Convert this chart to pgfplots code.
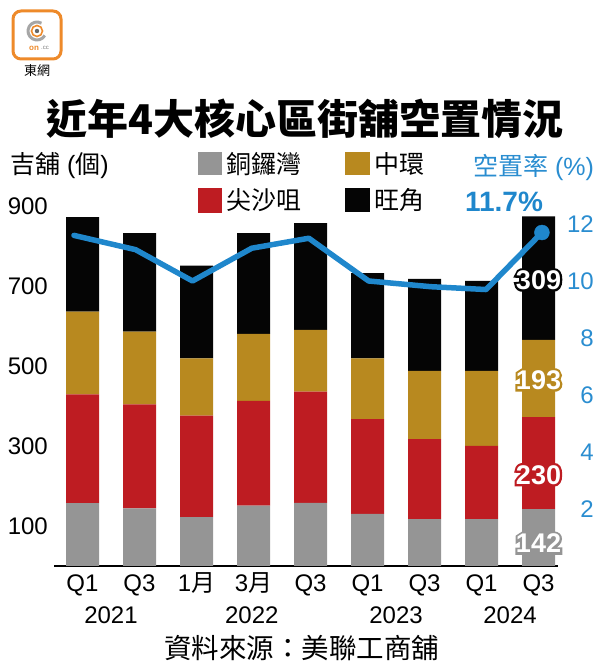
\documentclass[border=0pt]{standalone}
\usepackage{fontspec}
\setmainfont{Liberation Sans}
\newfontfamily\cjk{Noto Sans CJK TC}
\newfontface\outfont{Liberation Sans Bold}[FakeBold=17]
\usepackage{pgfplots}
\pgfplotsset{compat=1.18}
\definecolor{cgray}{HTML}{959595}
\definecolor{cred}{HTML}{BE1C22}
\definecolor{cgold}{HTML}{B8891F}
\definecolor{cblack}{HTML}{050505}
\definecolor{cblue}{HTML}{1F87CC}
\definecolor{ctblue}{HTML}{2A8DD0}
\definecolor{logoor}{HTML}{EE8A2A}
\newcommand\fs[1]{\fontsize{#1bp}{#1bp}\selectfont}
\begin{document}
\begin{tikzpicture}[x=1bp,y=1bp]
\useasboundingbox (0,0) rectangle (609,667);
% logo
\draw[draw=logoor, fill=white, line width=3bp, rounded corners=8bp] (13,608) rectangle (61,656);
\draw[gray!70, line width=3bp] (37,636) ++(60:9) arc (60:330:9);
\draw[logoor, line width=1.6bp] (37,636) circle (5.5);
\fill[gray!80!black] (37,636) circle (2.2);
\node[text=logoor, font=\bfseries\fs{8}] at (34,619) {on};
\node[text=gray, font=\fs{6}] at (45,619) {.cc};
\node[font=\cjk\fs{13}] at (37,596) {東網};
% title
\node[font=\cjk\bfseries\fs{41}] at (305,548) {近年4大核心區街舖空置情況};
% unit labels
\node[anchor=west, font=\fs{25}, inner sep=0pt] at (10,501) {{\cjk 吉舖} ({\cjk 個})};
\node[anchor=west, font=\fs{25}, inner sep=0pt, text=ctblue] at (473,499) {{\cjk 空置率} (\%)};
\node[font=\bfseries\fs{28}, text=cblue] at (504,465) {11.7\%};
% legend
\fill[cgray] (198,492) rectangle (222,515);
\node[anchor=west, font=\cjk\fs{25}, inner sep=0pt] at (226,503) {銅鑼灣};
\fill[cgold] (345,492) rectangle (370,515);
\node[anchor=west, font=\cjk\fs{25}, inner sep=0pt] at (374,503) {中環};
\fill[cred] (198,454) rectangle (222,479);
\node[anchor=west, font=\cjk\fs{25}, inner sep=0pt] at (226,467) {尖沙咀};
\fill[cblack] (345,455) rectangle (370,479);
\node[anchor=west, font=\cjk\fs{25}, inner sep=0pt] at (374,467) {旺角};
% source
\node[font=\cjk\fs{27.5}] at (301.5,19) {資料來源：美聯工商舖};

\begin{axis}[
  at={(54bp,101bp)}, anchor=south west,
  scale only axis, width=503.88bp, height=380bp,
  xmin=-0.5, xmax=8.34, ymin=0, ymax=950,
  ybar stacked, bar width=33bp,
  axis x line*=bottom, axis y line*=left,
  x axis line style={line width=2.4bp, -},
  y axis line style={draw=none},
  major tick length=0,
  xtick={0,...,8},
  xticklabels={Q1,Q3,1{\cjk 月},3{\cjk 月},Q3,Q1,Q3,Q1,Q3},
  ytick={100,300,500,700,900},
  tick label style={font=\fs{24}},
  xticklabel style={anchor=base, inner sep=0pt, yshift=-26bp},
  yticklabel style={anchor=east, inner sep=0pt, xshift=-6bp},
  /pgf/number format/assume math mode=true,
  clip=false,
]
\addplot[fill=cgray, draw=none] coordinates {(0,157) (1,144) (2,122) (3,151) (4,158) (5,130) (6,117) (7,117) (8,142)};
\addplot[fill=cred, draw=none] coordinates {(0,272) (1,260) (2,254) (3,262) (4,278) (5,237) (6,200) (7,183) (8,230)};
\addplot[fill=cgold, draw=none] coordinates {(0,207) (1,182) (2,143) (3,167) (4,154) (5,152) (6,171) (7,188) (8,193)};
\addplot[fill=cblack, draw=none] coordinates {(0,236) (1,246) (2,232) (3,252) (4,267) (5,213) (6,230) (7,225) (8,309)};
\coordinate (L309) at (axis cs:8,715);
\coordinate (L193) at (axis cs:8,465);
\coordinate (L230) at (axis cs:8,228);
\coordinate (L142) at (axis cs:8,57);
\node[anchor=base, font=\fs{24}, yshift=-57bp, inner sep=0pt] at (axis cs:0.5,0) {2021};
\node[anchor=base, font=\fs{24}, yshift=-57bp, inner sep=0pt] at (axis cs:2.97,0) {2022};
\node[anchor=base, font=\fs{24}, yshift=-57bp, inner sep=0pt] at (axis cs:5.5,0) {2023};
\node[anchor=base, font=\fs{24}, yshift=-57bp, inner sep=0pt] at (axis cs:7.5,0) {2024};
\end{axis}

\begin{axis}[
  at={(54bp,101bp)}, anchor=south west,
  scale only axis, width=503.88bp, height=380bp,
  xmin=-0.5, xmax=8.34, ymin=0, ymax=13.3333,
  axis x line=none, xtick=\empty,
  axis y line*=right, y axis line style={draw=none},
  major tick length=0,
  ytick={2,4,6,8,10,12},
  yticklabel style={anchor=east, inner sep=0pt, xshift=36bp, font=\fs{24}, text=ctblue},
  /pgf/number format/assume math mode=true,
  clip=false,
]
\addplot[cblue, line width=5.5bp, line join=round, line cap=round, mark=none] coordinates {(-0.15,11.6) (0.93,11.1) (1.93,10.0) (2.97,11.15) (3.97,11.5) (5.02,10.0) (6.11,9.8) (7.08,9.7) (8.06,11.7)};
\addplot[only marks, mark=*, mark size=7.5bp, mark options={draw=cblue, fill=cblue}] coordinates {(8.06,11.7)};
\end{axis}

\foreach \c/\t/\col in {L309/309/cblack, L193/193/cgold, L230/230/cred, L142/142/cgray} {
  \node[text=\col, font=\outfont\fs{27}] at (\c) {\t};
  \node[text=white, font=\bfseries\fs{27}] at (\c) {\t};
}
\end{tikzpicture}
\end{document}
